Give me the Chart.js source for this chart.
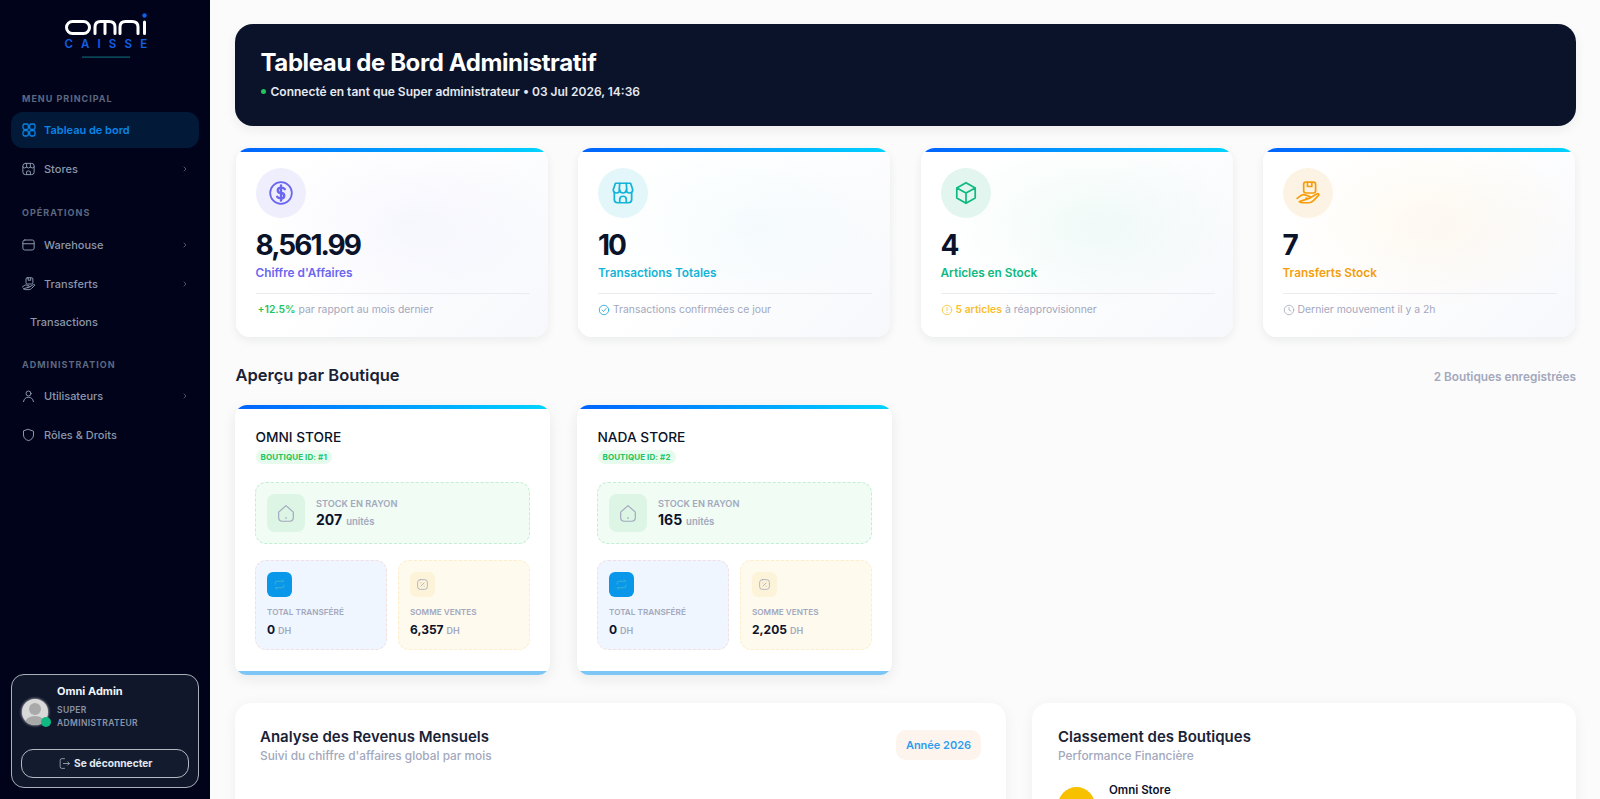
<!DOCTYPE html>
<html lang="fr">
<head>
<meta charset="utf-8">
<title>Tableau de Bord Administratif</title>
<script src="https://cdn.jsdelivr.net/npm/chart.js@4"></script>
<style>
* { box-sizing: border-box; margin: 0; padding: 0; }
html, body { width: 1600px; height: 799px; overflow: hidden; background: #fbfbfb; font-family: Inter, sans-serif; color: #0b132b; }
.abs { position: absolute; white-space: nowrap; }
svg { display: block; }

/* Sidebar */
#sidebar { position: absolute; left: 0; top: 0; width: 210px; height: 799px; background: #01031a; }
.nav-group { position: absolute; left: 22px; font-size: 9px; font-weight: 700; letter-spacing: 1px; color: #5d6880; transform: translateY(-50%); }
.nav-item { position: absolute; left: 44px; font-size: 11px; font-weight: 500; color: #8b97ab; transform: translateY(-50%); }
.nav-icon { position: absolute; left: 21px; transform: translateY(-50%); }
.nav-arrow { position: absolute; left: 181px; transform: translateY(-50%); }
#active-bg { position: absolute; left: 11px; top: 112px; width: 188px; height: 36px; border-radius: 12px; background: #021a38; }
#user-card { position: absolute; left: 11px; top: 674px; width: 188px; height: 114px; border: 1px solid #aab0ba; border-radius: 13px; background: #10172b; }
#logout { position: absolute; left: 21px; top: 749px; width: 168px; height: 29px; border: 1px solid #b4b9c2; border-radius: 12px; background: #131b2f; }

/* Header */
#hero { position: absolute; left: 235px; top: 24px; width: 1340.5px; height: 102px; border-radius: 18px; background: #0b132b; box-shadow: 0 4px 12px rgba(0,0,0,.06); }

/* KPI cards */
.kpi { position: absolute; top: 148px; width: 312px; height: 189px; border-radius: 14px; overflow: hidden; background: #fff; box-shadow: 0 3px 10px rgba(15,23,42,.07); }
.kpi .tint { position: absolute; inset: 0; }
.bar { position: absolute; left: 0; top: 0; width: 100%; height: 4px; background: linear-gradient(90deg, #0062ff, #00d4ff); }
.kpi .circle { position: absolute; left: 20px; top: 20px; width: 50px; height: 50px; border-radius: 50%; display: flex; align-items: center; justify-content: center; }
.kpi .value { position: absolute; left: 20px; top: 80px; font-size: 28px; line-height: 34px; font-weight: 700; letter-spacing: -2px; color: #0b132b; }
.kpi .label { position: absolute; left: 20px; top: 117px; font-size: 11.8px; line-height: 16px; font-weight: 600; }
.kpi .rule { position: absolute; left: 20px; right: 18px; top: 145px; height: 1px; background: #ececf0; }
.kpi .foot { position: absolute; left: 20px; top: 154px; height: 16px; font-size: 10.4px; line-height: 16px; color: #a3a8bd; display: flex; align-items: center; gap: 3px; white-space: nowrap; }
.kpi .foot b { font-weight: 600; }

/* Stores */
.store { position: absolute; top: 405px; width: 315px; height: 270px; border-radius: 12px; overflow: hidden; background: #fff; box-shadow: 0 4px 14px rgba(15,23,42,.08); }
.store .under { position: absolute; left: 0; bottom: 0; width: 100%; height: 4px; background: #7cc6f5; }
.store .name { position: absolute; left: 20.5px; top: 22px; font-size: 13.7px; line-height: 20px; font-weight: 500; color: #0b132b; }
.store .badge { position: absolute; left: 20.5px; top: 45px; height: 14px; padding: 0 5px; border-radius: 7px; background: #e6fbee; color: #22c55e; font-size: 8px; line-height: 14px; font-weight: 700; letter-spacing: .1px; }
.box { position: absolute; border-radius: 11px; border: 1px dashed; }
.box .ico { position: absolute; display: flex; align-items: center; justify-content: center; }
.box .cap { position: absolute; font-size: 8.2px; line-height: 10px; font-weight: 600; color: #a3a8bd; white-space: nowrap; }
.box .num { position: absolute; font-weight: 700; color: #0b132b; white-space: nowrap; }
.box .num span { font-weight: 600; color: #a3a8bd; margin-left: 4px; }

/* Bottom panels */
.panel { position: absolute; top: 703px; height: 420px; border-radius: 16px; background: #fff; box-shadow: 0 2px 14px rgba(15,23,42,.05); }
.panel .title { position: absolute; left: 25px; top: 25px; font-size: 15px; line-height: 18px; font-weight: 600; color: #1a2236; white-space: nowrap; }
.panel .sub { position: absolute; left: 25px; top: 46px; font-size: 11.85px; line-height: 14px; font-weight: 500; color: #a3a8bd; white-space: nowrap; }
#year-pill { position: absolute; left: 661px; top: 27px; width: 85px; height: 30px; border-radius: 10px; background: #fdf4ee; color: #2b9fee; font-size: 11px; line-height: 30px; font-weight: 600; text-align: center; }
</style>
</head>
<body>
<div id="sidebar"></div>
<div id="hero"></div>
<div id="kpis"></div>
<div class="abs" style="left:235.5px;top:364px;font-size:16.5px;line-height:22px;font-weight:600;color:#1a2236">Aperçu par Boutique</div>
<div class="abs" style="right:24px;top:369px;font-size:11.8px;line-height:16px;font-weight:600;color:#a3a8bd">2 Boutiques enregistrées</div>
<div id="stores"></div>

<div class="panel" style="left:235px;width:771px">
  <div class="title">Analyse des Revenus Mensuels</div>
  <div class="sub">Suivi du chiffre d'affaires global par mois</div>
  <div id="year-pill">Année 2026</div>
  <!-- le tracé commence sous le bas de la fenêtre, comme sur la capture -->
  <canvas id="revenueChart" width="720" height="300" style="position:absolute;left:25px;top:100px"></canvas>
</div>
<div class="panel" style="left:1032px;width:544px">
  <div class="title" style="left:26px">Classement des Boutiques</div>
  <div class="sub" style="left:26px">Performance Financière</div>
  <div class="abs" style="left:26px;top:84px;width:37px;height:37px;border-radius:50%;background:#f7c100"></div>
  <div class="abs" style="left:77px;top:80px;font-size:11.5px;line-height:14px;font-weight:600;color:#0b132b">Omni Store</div>
</div>

<script>
// Menu
const navGroups = [['MENU PRINCIPAL', 97.5], ['OPÉRATIONS', 212], ['ADMINISTRATION', 364]];
const navItems = ['Stores', 'Warehouse', 'Transferts', 'Transactions', 'Utilisateurs', 'Rôles & Droits'];
const navRows = [168.5, 244.5, 284, 321.5, 395.5, 435];
const navArrows = [true, true, true, false, true, false];

// Cartes du haut
const kpiValues = ['8,561.99', '10', '4', '7'];
const kpiLabels = ["Chiffre d'Affaires", 'Transactions Totales', 'Articles en Stock', 'Transferts Stock'];
const kpiColors = ['#6a66f0', '#14b4d8', '#10b981', '#f59e0b'];
const kpiCircles = ['#eeeefd', '#e3f6fa', '#e2f5ef', '#fdf3e4'];
const kpiTints = ['rgba(106,102,240,.05)', 'rgba(20,180,216,.04)', 'rgba(16,185,129,.06)', 'rgba(245,158,11,.06)'];

// Boutiques
const storeNames = ['OMNI STORE', 'NADA STORE'];
const storeIds = ['#1', '#2'];
const storeStock = [207, 165];
const storeTransfers = [0, 0];
const storeSales = ['6,357', '2,205'];

// Revenus : seul le total est lisible sur la capture, les mois sont hors champ
const revenueMonths = ['Jan', 'Fév', 'Mar', 'Avr', 'Mai', 'Juin', 'Juil'];
const revenueValues = [null, null, null, null, null, null, 8561.99];

function icon(body, size, color, width) {
    return `<svg width="${size}" height="${size}" viewBox="0 0 24 24" fill="none" stroke="${color}" stroke-width="${width || 1.6}" stroke-linecap="round" stroke-linejoin="round">${body}</svg>`;
}
const shapes = {
    grid: '<rect x="3" y="3" width="8" height="8" rx="2.5"/><rect x="13" y="3" width="8" height="8" rx="2.5"/><rect x="3" y="13" width="8" height="8" rx="2.5"/><rect x="13" y="13" width="8" height="8" rx="2.5"/>',
    store: '<rect x="3" y="3" width="18" height="18" rx="4"/><path d="M3 9q3 3 6 0q3 3 6 0q3 3 6 0M9 3v6M15 3v6M9 21v-5q3-2 6 0v5"/>',
    box: '<rect x="3" y="4" width="18" height="16" rx="3"/><path d="M3 10h18"/>',
    hand: '<path d="M10 2h7q2 0 2 2v6q0 2-2 2h-7q-2 0-2-2V4q0-2 2-2zM11.5 2v4h4V2M2 17l4-3q2-1 4 0l3 1q2 1 0 2h-3M13 17l7-4q2-1 2 1l-5 5q-2 2-4 2H7q-2 0-3-1z"/>',
    user: '<circle cx="12" cy="8" r="4"/><path d="M4 21c1-5 4-7 8-7s7 2 8 7"/>',
    shield: '<path d="M12 3l8 3v6c0 5-4 8-8 9-4-1-8-4-8-9V6z"/>',
    dollar: '<circle cx="12" cy="12" r="10"/><path stroke-width="2.2" d="M15.5 8.5q-1-1.5-3.5-1.5c-4 0-4 5 0 5s4 5 0 5q-2.5 0-3.5-1.5M12 5v14"/>',
    shop: '<path d="M5 3h14l2 6q0 3-3 3t-3-3q0 3-3 3t-3-3q0 3-3 3t-3-3z"/><path d="M4 12v6q0 3 3 3h10q3 0 3-3v-6M9 21v-3q0-3 3-3t3 3v3M9 3l-.5 6M15 3l.5 6"/>',
    cube: '<path d="M12 2.5l8.5 4.8v9.4L12 21.5l-8.5-4.8V7.3zM3.5 7.3L12 12l8.5-4.7M12 12v9.5"/>',
    check: '<circle cx="12" cy="12" r="9.5"/><path d="M8 12l3 3 5-6"/>',
    alert: '<circle cx="12" cy="12" r="9.5"/><path d="M12 7v6M12 16.5v.5"/>',
    clock: '<circle cx="12" cy="12" r="9.5"/><path d="M12 7v5l4 2"/>',
    house: '<path d="M4 11l8-7 8 7v6q0 4-4 4H8q-4 0-4-4zM12 17v1"/>',
    swap: '<path d="M4 11V9q0-3 3-3h13l-3-3M20 13v2q0 3-3 3H4l3 3"/>',
    percent: '<rect x="3" y="3" width="18" height="18" rx="5"/><path d="M9 15l6-6M9 9h.01M15 15h.01"/>',
    door: '<path d="M12 3H7q-3 0-3 3v12q0 3 3 3h5M10 12h11l-3-3M21 12l-3 3"/>'
};

// Barre latérale
function buildSidebar() {
    const side = document.getElementById('sidebar');
    let html = `<svg class="abs" style="left:0;top:0" width="210" height="62" fill="none">
        <g stroke="#fff" stroke-width="3" stroke-linecap="round">
        <rect x="66.5" y="21.5" width="23" height="12" rx="6"/>
        <path d="M95 33.5V27q0-5.5 5.5-5.5H109q6 0 6 5.5v6.5M105 23v10.5M120 33.5V27q0-5.5 5.5-5.5H132q6 0 6 5.5v6.5M144.5 22v11.5"/></g>
        <circle cx="144.5" cy="15.5" r="2.2" fill="#1160e8"/>
        <rect x="82" y="56.5" width="48" height="1.2" fill="#0f6472"/></svg>
        <div class="abs" style="left:64.5px;top:38px;font-size:11.5px;line-height:12px;font-weight:600;letter-spacing:8.2px;color:#1160e8">CAISSE</div>
        <div id="active-bg"></div>
        <div class="nav-icon" style="top:129.5px">${icon(shapes.grid, 16, '#0a84e8', 1.9)}</div>
        <div class="nav-item" style="top:129.5px;color:#0a84e8;font-weight:600">Tableau de bord</div>`;
    navGroups.forEach(g => { html += `<div class="nav-group" style="top:${g[1]}px">${g[0]}</div>`; });
    const navIcons = ['store', 'box', 'hand', null, 'user', 'shield'];
    navItems.forEach((name, i) => {
        const left = navIcons[i] ? 44 : 30;
        html += `<div class="nav-item" style="top:${navRows[i]}px;left:${left}px">${name}</div>`;
        if (navIcons[i]) html += `<div class="nav-icon" style="top:${navRows[i]}px">${icon(shapes[navIcons[i]], 15, '#8b97ab')}</div>`;
        if (navArrows[i]) html += `<div class="nav-arrow" style="top:${navRows[i]}px">${icon('<path d="M9 6l6 6-6 6"/>', 8, '#5d6880', 2.5)}</div>`;
    });
    html += `<div id="user-card"></div>
        <div class="abs" style="left:22px;top:699px;width:26px;height:26px;border-radius:50%;background:#d9d9d9;box-shadow:0 0 3px #fff;overflow:hidden">
          <div class="abs" style="left:7px;top:4px;width:12px;height:12px;border-radius:50%;background:#a9a9a9"></div>
          <div class="abs" style="left:3px;top:17px;width:20px;height:14px;border-radius:50%;background:#a9a9a9"></div></div>
        <div class="abs" style="left:40.5px;top:717px;width:10px;height:10px;border-radius:50%;background:#10b981"></div>
        <div class="abs" style="left:57px;top:684px;font-size:11px;line-height:14px;font-weight:700;color:#f1f5f9">Omni Admin</div>
        <div class="abs" style="left:57px;top:704px;font-size:8.5px;line-height:12.5px;font-weight:600;letter-spacing:.35px;color:#8b93a7">SUPER<br>ADMINISTRATEUR</div>
        <div id="logout"></div>
        <div class="abs" style="left:58px;top:757px">${icon(shapes.door, 13, '#a8aebb', 1.5)}</div>
        <div class="abs" style="left:74px;top:756px;font-size:10.2px;line-height:14px;font-weight:700;color:#e2e8f0">Se déconnecter</div>`;
    side.innerHTML = html;
}

// Bandeau
function buildHero() {
    document.getElementById('hero').innerHTML = `
        <div class="abs" style="left:25.5px;top:21px;font-size:24px;line-height:36px;font-weight:700;letter-spacing:-.4px;color:#fff">Tableau de Bord Administratif</div>
        <div class="abs" style="left:25.5px;top:65px;width:5px;height:5px;border-radius:50%;background:#22c55e"></div>
        <div class="abs" style="left:35.5px;top:60px;font-size:12px;line-height:16px;font-weight:600;color:#e5e9f0">Connecté en tant que Super administrateur • 03 Jul 2026, 14:36</div>`;
}

// Cartes KPI
function buildKpis() {
    const lefts = [235.5, 578, 920.5, 1262.5];
    const kpiIcons = [shapes.dollar, shapes.shop, shapes.cube, shapes.hand];
    const feet = [
        `<span style="margin-left:2px;color:#22c55e"><b>+12.5%</b></span> par rapport au mois dernier`,
        `${icon(shapes.check, 12, '#14a0d8')} Transactions confirmées ce jour`,
        `${icon(shapes.alert, 12, '#f9bf2c')} <span style="color:#f9bf2c"><b>5 articles</b></span> à réapprovisionner`,
        `${icon(shapes.clock, 12, '#a3a8bd')} Dernier mouvement il y a 2h`
    ];
    let html = '';
    kpiValues.forEach((value, i) => {
        html += `<div class="kpi" style="left:${lefts[i]}px">
            <div class="tint" style="background:radial-gradient(ellipse 150px 90px at 55% 40%, ${kpiTints[i]}, transparent),linear-gradient(135deg,#fff 40%,#f7f8fc)"></div>
            <div class="bar"></div>
            <div class="circle" style="background:${kpiCircles[i]}">${icon(kpiIcons[i], 26, kpiColors[i])}</div>
            <div class="value">${value}</div>
            <div class="label" style="color:${kpiColors[i]}">${kpiLabels[i]}</div>
            <div class="rule"></div>
            <div class="foot">${feet[i]}</div></div>`;
    });
    document.getElementById('kpis').innerHTML = html;
}

// Cartes boutiques
function buildStores() {
    const lefts = [235, 577];
    let html = '';
    storeNames.forEach((name, i) => {
        html += `<div class="store" style="left:${lefts[i]}px">
            <div class="bar"></div>
            <div class="name">${name}</div>
            <div class="badge">BOUTIQUE ID: ${storeIds[i]}</div>
            <div class="box" style="left:20px;top:77px;width:275px;height:62px;background:#f0fcf4;border-color:#c4eed3">
              <div class="ico" style="left:11px;top:11px;width:38px;height:38px;border-radius:8px;background:#dcf5e4">${icon(shapes.house, 22, '#a3a8bd', 1.3)}</div>
              <div class="cap" style="left:60px;top:16px;font-size:9.2px">STOCK EN RAYON</div>
              <div class="num" style="left:60px;top:28px;font-size:14px;line-height:18px">${storeStock[i]}<span style="font-size:9.5px">unités</span></div>
            </div>
            <div class="box" style="left:20px;top:155px;width:132px;height:90px;background:#eff6ff;border-color:#f3dfe2">
              <div class="ico" style="left:11px;top:11px;width:25px;height:25px;border-radius:6px;background:#0897e9">${icon(shapes.swap, 13, '#47b5c8', 1.6)}</div>
              <div class="cap" style="left:11px;top:46px">TOTAL TRANSFÉRÉ</div>
              <div class="num" style="left:11px;top:61px;font-size:12px;line-height:16px">${storeTransfers[i]}<span style="font-size:9px;margin-left:3px">DH</span></div>
            </div>
            <div class="box" style="left:163px;top:155px;width:132px;height:90px;background:#fffaee;border-color:#fdeecb">
              <div class="ico" style="left:11px;top:11px;width:25px;height:25px;border-radius:6px;background:#fdf3d8">${icon(shapes.percent, 13, '#a3a8bd', 1.5)}</div>
              <div class="cap" style="left:11px;top:46px">SOMME VENTES</div>
              <div class="num" style="left:11px;top:61px;font-size:12px;line-height:16px">${storeSales[i]}<span style="font-size:9px;margin-left:3px">DH</span></div>
            </div>
            <div class="under"></div></div>`;
    });
    document.getElementById('stores').innerHTML = html;
}

buildSidebar();
buildHero();
buildKpis();
buildStores();

// Graphique des revenus
new Chart(document.getElementById('revenueChart'), {
    type: 'line',
    data: {
        labels: revenueMonths,
        datasets: [{
            label: "Chiffre d'affaires",
            data: revenueValues,
            borderColor: '#2b9fee',
            backgroundColor: '#2b9fee',
            tension: 0.4
        }]
    },
    options: {
        responsive: false,
        animation: false,
        plugins: { legend: { display: false } },
        scales: { y: { beginAtZero: true } }
    }
});
</script>
</body>
</html>
